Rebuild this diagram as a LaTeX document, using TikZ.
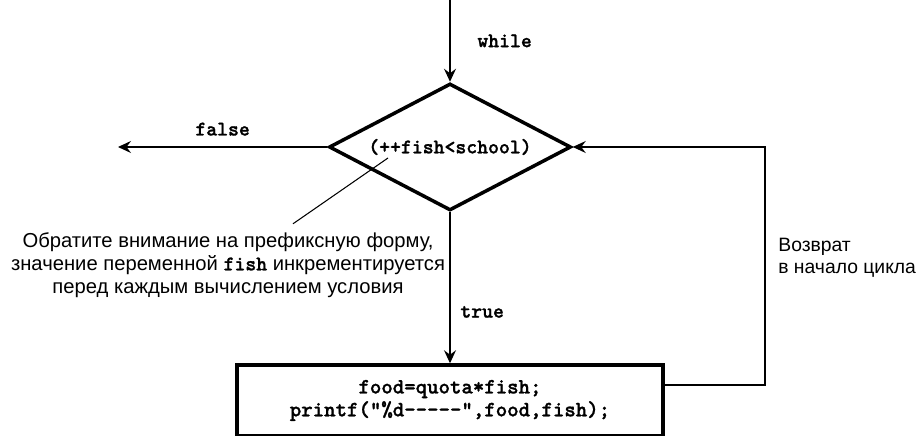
\documentclass[tikz,border=0pt]{standalone}
\usepackage{fontspec}
\setmainfont{Liberation Sans}
\newfontfamily\codefont[FakeBold=1.2]{lmmonolt10-bold.otf}
\usetikzlibrary{shapes.geometric,arrows.meta,positioning}

\begin{document}
\begin{tikzpicture}[
      pointer/.style={line width=0.6pt, -{Stealth[length=2.6mm,width=2.4mm,inset=0.9mm]}, draw=black},
      thinline/.style={line width=0.6pt, draw=black},
      code/.style={font=\codefont\fontsize{11.8}{13}\selectfont},
      boxcode/.style={font=\codefont\fontsize{12.4}{13}\selectfont},
      remark/.style={font=\fontsize{11.5}{13}\selectfont, align=center, inner sep=0pt},
      decision/.style={diamond, aspect=1.91, draw=black, line width=2pt, minimum width=4.84cm, minimum height=2.54cm, inner sep=0pt, code},
      stepbox/.style={rectangle, draw=black, line width=2pt, minimum width=8.52cm, minimum height=1.42cm, align=center, boxcode}
      ]
      \useasboundingbox (0,0) rectangle (18.32,8.72);
      \node[decision] (cond) at (9,5.78) {(++fish<school)};
      \node[stepbox] (body) at (9,0.71) {food=quota*fish;\\printf("\%d-{}-{}-{}-{}-",food,fish);};
      \coordinate (start) at (9,8.72);
      \coordinate (exit) at (2.36,5.78);
      \coordinate (corner) at (15.3,1.02);
      \coordinate (tip) at (7.76,5.56);
      \draw[pointer] (start) -- node[right=0.42cm, code] {while} (cond.north);
      \draw[pointer] (cond.west) -- node[above=1mm, code] {false} (exit);
      \draw[pointer] (cond.south) -- node[pos=0.66, right=0.08cm, code] {true} (body.north);
      \draw[pointer] (corner -| body.east) -- (corner) |- (cond.east);
      \node[remark, font=\fontsize{11}{12.5}\selectfont, align=left, anchor=west] (back) at (15.56,3.56) {Возврат\\в начало цикла};
      \node[remark] (note) at (4.56,3.42) {Обратите внимание на префиксную форму,\\значение переменной {\codefont\fontsize{11.8}{13}\selectfont fish} инкрементируется\\перед каждым вычислением условия};
      \draw[thinline] ([xshift=1.3cm,yshift=0.17cm]note.north) -- (tip);
    \end{tikzpicture}
\end{document}
